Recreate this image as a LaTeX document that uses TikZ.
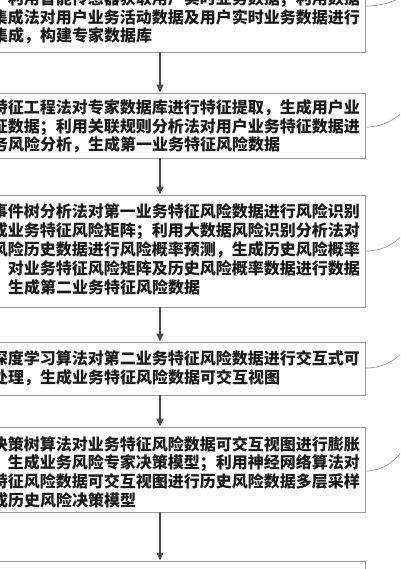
\documentclass[tikz,border=0pt]{standalone}
\usepackage{fontspec}
\newfontfamily\cjk{Noto Sans CJK SC}
\usetikzlibrary{arrows.meta}
\definecolor{boxgray}{HTML}{9C9C9C}
\definecolor{arrowgray}{HTML}{4A4A4A}
\begin{document}
\begin{tikzpicture}[x=1pt,y=-1pt,
  box/.style={draw=boxgray,line width=0.9pt,inner sep=0pt,minimum width=410pt},
  ln/.style={font=\cjk\bfseries\fontsize{16}{16}\selectfont,inner sep=0pt,text=black!90},
  flow/.style={draw=arrowgray,line width=1.2pt,-{Triangle[length=8pt,width=7pt]}},
  lead/.style={draw=boxgray,line width=0.7pt}]
\useasboundingbox (0,0) rectangle (400,569);
\clip (0,0) rectangle (400,569);
% boxes
\node[box,minimum height=72pt]  (b1) at (160,16) {};
\node[box,minimum height=65pt]  (b2) at (160,125.5) {};
\node[box,minimum height=112pt] (b3) at (160,251) {};
\node[box,minimum height=53pt]  (b4) at (160,368.5) {};
\node[box,minimum height=85pt]  (b5) at (160,469.5) {};
\node[box,minimum height=60pt]  (b6) at (160,591) {};
% arrows
\draw[flow] (b1) -- (b2);
\draw[flow] (b2) -- (b3);
\draw[flow] (b3) -- (b4);
\draw[flow] (b4) -- (b5);
\draw[flow] (b5) -- (b6);
% box 1 text
\node[ln,anchor=base east] (t11) at (360,5) {利用智能传感器获取用户实时业务数据；利用数据};
\node[ln,anchor=base east] (t12) at (360,23.5) {集成法对用户业务活动数据及用户实时业务数据进行};
\node[ln,anchor=base west] (t13) at (-8,42) {集成，构建专家数据库};
% box 2 text
\node[ln,anchor=base east] (t21) at (360,114) {特征工程法对专家数据库进行特征提取，生成用户业};
\node[ln,anchor=base east] (t22) at (360,132.5) {征数据；利用关联规则分析法对用户业务特征数据进};
\node[ln,anchor=base west] (t23) at (-8,151) {务风险分析，生成第一业务特征风险数据};
% box 3 text
\node[ln,anchor=base east] (t31) at (360,217) {事件树分析法对第一业务特征风险数据进行风险识别};
\node[ln,anchor=base east] (t32) at (360,236) {成业务特征风险矩阵；利用大数据风险识别分析法对};
\node[ln,anchor=base east] (t33) at (360,255) {风险历史数据进行风险概率预测，生成历史风险概率};
\node[ln,anchor=base east] (t34) at (360,274) {，对业务特征风险矩阵及历史风险概率数据进行数据};
\node[ln,anchor=base west] (t35) at (-8,293) {，生成第二业务特征风险数据};
% box 4 text
\node[ln,anchor=base east] (t41) at (360,364) {深度学习算法对第二业务特征风险数据进行交互式可};
\node[ln,anchor=base west] (t42) at (-8,383) {处理，生成业务特征风险数据可交互视图};
% box 5 text
\node[ln,anchor=base east] (t51) at (360,450) {决策树算法对业务特征风险数据可交互视图进行膨胀};
\node[ln,anchor=base east] (t52) at (360,468.5) {，生成业务风险专家决策模型；利用神经网络算法对};
\node[ln,anchor=base east] (t53) at (360,487) {特征风险数据可交互视图进行历史风险数据多层采样};
\node[ln,anchor=base west] (t54) at (-8,506) {成历史风险决策模型};
% leader lines
\coordinate (e1) at (402,-3);
\coordinate (e2) at (402,113);
\coordinate (e3) at (402,236);
\coordinate (e4) at (402,353);
\coordinate (e5) at (402,452);
\draw[lead] (b1.east |- 0,6) .. controls (382,6) and (392,2) .. (e1);
\draw[lead] (b2.east |- 0,127) .. controls (382,127) and (392,121) .. (e2);
\draw[lead] (b3.east |- 0,251) .. controls (382,251) and (392,245) .. (e3);
\draw[lead] (b4.east |- 0,368) .. controls (382,368) and (392,362) .. (e4);
\draw[lead] (b5.east |- 0,471) .. controls (382,471) and (392,463) .. (e5);
\end{tikzpicture}
\end{document}
